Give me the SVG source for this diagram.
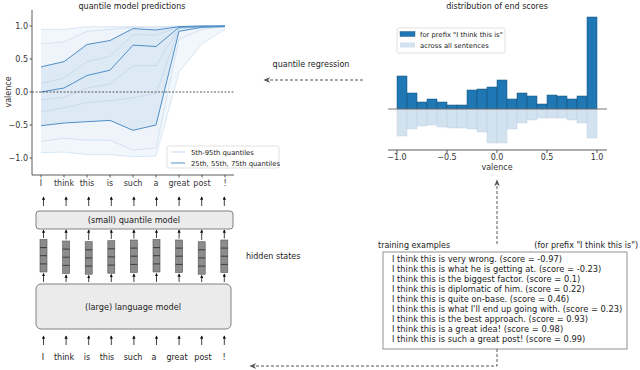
<svg xmlns="http://www.w3.org/2000/svg" width="640" height="370" viewBox="0 0 640 370">
<defs>
<style>
text{font-family:"DejaVu Sans",Verdana,sans-serif;fill:#222}
.t8{font-size:8px}
.bl{font-size:8.2px}
.leg{font-size:6.8px}
.tk{font-size:8px;fill:#333}
.ex{font-size:8.3px}
.box{fill:#ebebeb;stroke:#666;stroke-width:0.8}
.arr{stroke:#111;stroke-width:0.8;marker-end:url(#sa)}
.dash{stroke:#555;stroke-width:1;stroke-dasharray:3 2;fill:none;marker-end:url(#da)}
.hs{fill:#8c8c8c;stroke:#555;stroke-width:0.6}
.hsl{stroke:#333;stroke-width:0.9}
.ql{fill:none;stroke:#9fc1e2;stroke-width:0.6;opacity:0.6}
.qm{fill:none;stroke:#4f8fc8;stroke-width:1}
.bar{fill:#1f77b4;stroke:#1b4f7a;stroke-width:0.5}
.bar2{fill:#d3e2ef;stroke:#b9cde0;stroke-width:0.4}
.ax{stroke:#333;stroke-width:0.8;fill:none}
</style>
<marker id="sa" viewBox="0 0 6 6" refX="5" refY="3" markerWidth="3.4" markerHeight="3.4" markerUnits="userSpaceOnUse" orient="auto"><path d="M0,0 L6,3 L0,6 z" fill="#111"/></marker>
<marker id="da" viewBox="0 0 10 10" refX="9" refY="5" markerWidth="7" markerHeight="7" markerUnits="userSpaceOnUse" orient="auto"><path d="M0,1 L10,5 L0,9 L3,5 z" fill="#555"/></marker>
</defs>

<g id="quantile-chart">
<text class="t8" x="132" y="8.5" text-anchor="middle">quantile model predictions</text>
<path d="M41,29.3 L64,29.3 L87,26.7 L110,26.7 L133,26.7 L156,26.7 L179,26 L202,26 L225,26 L225,29.3 L202,43.8 L179,72.2 L156,156 L133,156.7 L110,154.7 L87,154.7 L64,152.1 L41,152.7 Z" fill="#1f77b4" fill-opacity="0.06"/>
<path d="M41,43.8 L64,41.8 L87,31.3 L110,29.3 L133,27.3 L156,28 L179,26.7 L202,26 L225,26 L225,26.7 L202,29.3 L179,39.2 L156,148.1 L133,150.1 L110,140.2 L87,140.2 L64,138.2 L41,141.5 Z" fill="#1f77b4" fill-opacity="0.02"/>
<path d="M41,66.9 L64,61.6 L87,44.5 L110,40.5 L133,28.6 L156,30 L179,26.7 L202,26 L225,26 L225,26.7 L202,27.3 L179,31.3 L156,125 L133,130.3 L110,120.4 L87,121.7 L64,123 L41,125.7 Z" fill="#1f77b4" fill-opacity="0.08"/>
<path class="ql" d="M41,29.3 L64,29.3 L87,26.7 L110,26.7 L133,26.7 L156,26.7 L179,26 L202,26 L225,26"/>
<path class="ql" d="M41,43.8 L64,41.8 L87,31.3 L110,29.3 L133,27.3 L156,28 L179,26.7 L202,26 L225,26"/>
<path class="ql" d="M41,83.4 L64,78.1 L87,61.6 L110,56.4 L133,34.6 L156,35.2 L179,26.7 L202,26 L225,26"/>
<path class="ql" d="M41,99.9 L64,97.3 L87,88 L110,84.1 L133,65.6 L156,65.6 L179,28 L202,26.7 L225,26"/>
<path class="ql" d="M41,111.8 L64,107.8 L87,102.6 L110,100.6 L133,97.9 L156,93.3 L179,28.6 L202,26.7 L225,26"/>
<path class="ql" d="M41,141.5 L64,138.2 L87,140.2 L110,140.2 L133,150.1 L156,148.1 L179,39.2 L202,29.3 L225,26.7"/>
<path class="ql" d="M41,152.7 L64,152.1 L87,154.7 L110,154.7 L133,156.7 L156,156 L179,72.2 L202,43.8 L225,29.3"/>
<path class="qm" d="M41,66.9 L64,61.6 L87,44.5 L110,40.5 L133,28.6 L156,30 L179,26.7 L202,26 L225,26"/>
<path class="qm" d="M41,92 L64,88 L87,75.5 L110,70.2 L133,45.1 L156,46.5 L179,27.3 L202,26.7 L225,26"/>
<path class="qm" d="M41,125.7 L64,123 L87,121.7 L110,120.4 L133,130.3 L156,125 L179,31.3 L202,27.3 L225,26.7"/>
<line x1="32" y1="92" x2="235" y2="92" stroke="#333" stroke-width="0.8" stroke-dasharray="2 1.5"/>
<path class="ax" d="M32,10 V175 H234"/>
<path class="ax" d="M29.5,26 H32 M29.5,59 H32 M29.5,92 H32 M29.5,125 H32 M29.5,158 H32 M41,175 V177.5 M64,175 V177.5 M87,175 V177.5 M110,175 V177.5 M133,175 V177.5 M156,175 V177.5 M179,175 V177.5 M202,175 V177.5 M225,175 V177.5"/>
<text class="tk" x="28" y="29" text-anchor="end">1.0</text>
<text class="tk" x="28" y="62" text-anchor="end">0.5</text>
<text class="tk" x="28" y="95" text-anchor="end">0.0</text>
<text class="tk" x="28" y="128" text-anchor="end">−0.5</text>
<text class="tk" x="28" y="161" text-anchor="end">−1.0</text>
<text class="tk" transform="translate(10.5,92) rotate(-90)" text-anchor="middle">valence</text>
<g class="tk" text-anchor="middle">
<text class="tk" x="41" y="186">I</text>
<text class="tk" x="64" y="186">think</text>
<text class="tk" x="87" y="186">this</text>
<text class="tk" x="110" y="186">is</text>
<text class="tk" x="133" y="186">such</text>
<text class="tk" x="156" y="186">a</text>
<text class="tk" x="179" y="186">great</text>
<text class="tk" x="202" y="186">post</text>
<text class="tk" x="225" y="186">!</text>
</g>
<rect x="167" y="146" width="112" height="22" rx="2" fill="#fff" fill-opacity="0.85" stroke="#ccc" stroke-width="0.6"/>
<line x1="171" y1="152" x2="185" y2="152" stroke="#c6dbef" stroke-width="1"/>
<text class="leg" x="191" y="154.5">5th-95th quantiles</text>
<line x1="171" y1="163" x2="185" y2="163" stroke="#8ab8e0" stroke-width="1.5"/>
<text class="leg" x="191" y="165.5">25th, 55th, 75th quantiles</text>
</g>

<g id="histogram">
<text class="t8" x="497" y="9" text-anchor="middle">distribution of end scores</text>
<rect class="bar" x="397" y="76" width="10" height="33"/>
<rect class="bar" x="407" y="93" width="10" height="16"/>
<rect class="bar" x="417" y="102" width="10" height="7"/>
<rect class="bar" x="427" y="99" width="10" height="10"/>
<rect class="bar" x="437" y="102" width="10" height="7"/>
<rect class="bar" x="447" y="105" width="10" height="4"/>
<rect class="bar" x="457" y="105" width="10" height="4"/>
<rect class="bar" x="467" y="90" width="10" height="19"/>
<rect class="bar" x="477" y="89" width="10" height="20"/>
<rect class="bar" x="487" y="87" width="10" height="22"/>
<rect class="bar" x="497" y="80" width="10" height="29"/>
<rect class="bar" x="507" y="99" width="10" height="10"/>
<rect class="bar" x="517" y="93" width="10" height="16"/>
<rect class="bar" x="527" y="96" width="10" height="13"/>
<rect class="bar" x="537" y="104" width="10" height="5"/>
<rect class="bar" x="547" y="95" width="10" height="14"/>
<rect class="bar" x="557" y="96" width="10" height="13"/>
<rect class="bar" x="567" y="99" width="10" height="10"/>
<rect class="bar" x="577" y="96" width="10" height="13"/>
<rect class="bar" x="587" y="17" width="10" height="92"/>
<rect class="bar2" x="397" y="109" width="10" height="27"/>
<rect class="bar2" x="407" y="109" width="10" height="20"/>
<rect class="bar2" x="417" y="109" width="10" height="17"/>
<rect class="bar2" x="427" y="109" width="10" height="16"/>
<rect class="bar2" x="437" y="109" width="10" height="18"/>
<rect class="bar2" x="447" y="109" width="10" height="19"/>
<rect class="bar2" x="457" y="109" width="10" height="19"/>
<rect class="bar2" x="467" y="109" width="10" height="20"/>
<rect class="bar2" x="477" y="109" width="10" height="23"/>
<rect class="bar2" x="487" y="109" width="10" height="34"/>
<rect class="bar2" x="497" y="109" width="10" height="34"/>
<rect class="bar2" x="507" y="109" width="10" height="20"/>
<rect class="bar2" x="517" y="109" width="10" height="14"/>
<rect class="bar2" x="527" y="109" width="10" height="11"/>
<rect class="bar2" x="537" y="109" width="10" height="9"/>
<rect class="bar2" x="547" y="109" width="10" height="9"/>
<rect class="bar2" x="557" y="109" width="10" height="9"/>
<rect class="bar2" x="567" y="109" width="10" height="11"/>
<rect class="bar2" x="577" y="109" width="10" height="14"/>
<rect class="bar2" x="587" y="109" width="10" height="29"/>
<line x1="388" y1="109" x2="607" y2="109" stroke="#555" stroke-width="0.8"/>
<path class="ax" d="M388,150 H607 M397,150 V153 M447,150 V153 M497,150 V153 M547,150 V153 M597,150 V153"/>
<text class="tk" x="397" y="160" text-anchor="middle">−1.0</text>
<text class="tk" x="447" y="160" text-anchor="middle">−0.5</text>
<text class="tk" x="497" y="160" text-anchor="middle">0.0</text>
<text class="tk" x="547" y="160" text-anchor="middle">0.5</text>
<text class="tk" x="597" y="160" text-anchor="middle">1.0</text>
<text class="tk" x="497" y="170" text-anchor="middle">valence</text>
<rect x="397" y="28" width="108" height="25" rx="2" fill="#fff" fill-opacity="0.85" stroke="#ccc" stroke-width="0.6"/>
<rect x="400" y="31.5" width="15" height="5" fill="#1f77b4" stroke="#1b4f7a" stroke-width="0.4"/>
<text class="leg" x="420" y="36.5">for prefix "I think this is"</text>
<rect x="400" y="42.5" width="15" height="5" fill="#d3e2ef"/>
<text class="leg" x="420" y="47.5">across all sentences</text>
</g>

<g id="quantile-model">
<rect class="box" x="36" y="211" width="197" height="18" rx="3"/>
<text class="bl" x="134" y="223" text-anchor="middle">(small) quantile model</text>
</g>

<g id="hidden-states">
<rect class="hs" x="40" y="239.5" width="7" height="32.5"/><path class="hsl" d="M40,247.6 h7 M40,255.7 h7 M40,263.9 h7"/>
<rect class="hs" x="62.6" y="241" width="7" height="32.5"/><path class="hsl" d="M62.6,249.1 h7 M62.6,257.2 h7 M62.6,265.4 h7"/>
<rect class="hs" x="85.2" y="241.7" width="7" height="32.5"/><path class="hsl" d="M85.2,249.8 h7 M85.2,257.9 h7 M85.2,266.1 h7"/>
<rect class="hs" x="107.8" y="240.7" width="7" height="32.5"/><path class="hsl" d="M107.8,248.8 h7 M107.8,256.9 h7 M107.8,265.1 h7"/>
<rect class="hs" x="130.4" y="240" width="7" height="32.5"/><path class="hsl" d="M130.4,248.1 h7 M130.4,256.2 h7 M130.4,264.4 h7"/>
<rect class="hs" x="153" y="239.5" width="7" height="32.5"/><path class="hsl" d="M153,247.6 h7 M153,255.7 h7 M153,263.9 h7"/>
<rect class="hs" x="175.6" y="240" width="7" height="32.5"/><path class="hsl" d="M175.6,248.1 h7 M175.6,256.2 h7 M175.6,264.4 h7"/>
<rect class="hs" x="198.2" y="241.7" width="7" height="32.5"/><path class="hsl" d="M198.2,249.8 h7 M198.2,257.9 h7 M198.2,266.1 h7"/>
<rect class="hs" x="220.8" y="240" width="7" height="32.5"/><path class="hsl" d="M220.8,248.1 h7 M220.8,256.2 h7 M220.8,264.4 h7"/>
<text class="t8" x="246" y="259">hidden states</text>
</g>

<g id="language-model">
<rect class="box" x="36" y="284" width="195" height="45" rx="5"/>
<text class="bl" x="133" y="309.5" text-anchor="middle">(large) language model</text>
</g>

<g id="input-tokens">
<text class="t8" x="43" y="360" text-anchor="middle">I</text>
<text class="t8" x="64" y="360" text-anchor="middle">think</text>
<text class="t8" x="87" y="360" text-anchor="middle">is</text>
<text class="t8" x="107" y="360" text-anchor="middle">this</text>
<text class="t8" x="133" y="360" text-anchor="middle">such</text>
<text class="t8" x="154" y="360" text-anchor="middle">a</text>
<text class="t8" x="177" y="360" text-anchor="middle">great</text>
<text class="t8" x="203" y="360" text-anchor="middle">post</text>
<text class="t8" x="224" y="360" text-anchor="middle">!</text>
</g>

<g id="training-examples">
<text class="t8" x="378" y="248">training examples</text>
<text class="t8" x="638" y="248" text-anchor="end">(for prefix "I think this is")</text>
<rect x="383" y="252" width="244" height="97" fill="#fff" stroke="#777" stroke-width="0.8"/>
<text class="ex" x="392" y="261.5">I think this is very wrong. (score = -0.97)</text>
<text class="ex" x="392" y="271.6">I think this is what he is getting at. (score = -0.23)</text>
<text class="ex" x="392" y="281.7">I think this is the biggest factor. (score = 0.1)</text>
<text class="ex" x="392" y="291.8">I think this is diplomatic of him. (score = 0.22)</text>
<text class="ex" x="392" y="301.9">I think this is quite on-base. (score = 0.46)</text>
<text class="ex" x="392" y="312">I think this is what I'll end up going with. (score = 0.23)</text>
<text class="ex" x="392" y="322.1">I think this is the best approach. (score = 0.93)</text>
<text class="ex" x="392" y="332.2">I think this is a great idea! (score = 0.98)</text>
<text class="ex" x="392" y="342.3">I think this is such a great post! (score = 0.99)</text>
</g>

<g id="connectors">
<line class="arr" x1="43.5" y1="206" x2="43.5" y2="197"/>
<line class="arr" x1="66.1" y1="206" x2="66.1" y2="197"/>
<line class="arr" x1="88.7" y1="206" x2="88.7" y2="197"/>
<line class="arr" x1="111.3" y1="206" x2="111.3" y2="197"/>
<line class="arr" x1="133.9" y1="206" x2="133.9" y2="197"/>
<line class="arr" x1="156.5" y1="206" x2="156.5" y2="197"/>
<line class="arr" x1="179.1" y1="206" x2="179.1" y2="197"/>
<line class="arr" x1="201.7" y1="206" x2="201.7" y2="197"/>
<line class="arr" x1="224.3" y1="206" x2="224.3" y2="197"/>
<line class="arr" x1="43.5" y1="238" x2="43.5" y2="230"/>
<line class="arr" x1="66.1" y1="239.5" x2="66.1" y2="230"/>
<line class="arr" x1="88.7" y1="240" x2="88.7" y2="230"/>
<line class="arr" x1="111.3" y1="239" x2="111.3" y2="230"/>
<line class="arr" x1="133.9" y1="238.5" x2="133.9" y2="230"/>
<line class="arr" x1="156.5" y1="238" x2="156.5" y2="230"/>
<line class="arr" x1="179.1" y1="238.5" x2="179.1" y2="230"/>
<line class="arr" x1="201.7" y1="240" x2="201.7" y2="230"/>
<line class="arr" x1="224.3" y1="238.5" x2="224.3" y2="230"/>
<line class="arr" x1="43.5" y1="282" x2="43.5" y2="273.5"/>
<line class="arr" x1="66.1" y1="282" x2="66.1" y2="275"/>
<line class="arr" x1="88.7" y1="282" x2="88.7" y2="275.5"/>
<line class="arr" x1="111.3" y1="282" x2="111.3" y2="274.5"/>
<line class="arr" x1="133.9" y1="282" x2="133.9" y2="274"/>
<line class="arr" x1="156.5" y1="282" x2="156.5" y2="273.5"/>
<line class="arr" x1="179.1" y1="282" x2="179.1" y2="274"/>
<line class="arr" x1="201.7" y1="282" x2="201.7" y2="275.5"/>
<line class="arr" x1="224.3" y1="282" x2="224.3" y2="274"/>
<line class="arr" x1="43.5" y1="345" x2="43.5" y2="336"/>
<line class="arr" x1="66.1" y1="345" x2="66.1" y2="336"/>
<line class="arr" x1="88.7" y1="345" x2="88.7" y2="336"/>
<line class="arr" x1="111.3" y1="345" x2="111.3" y2="336"/>
<line class="arr" x1="133.9" y1="345" x2="133.9" y2="336"/>
<line class="arr" x1="156.5" y1="345" x2="156.5" y2="336"/>
<line class="arr" x1="179.1" y1="345" x2="179.1" y2="336"/>
<line class="arr" x1="201.7" y1="345" x2="201.7" y2="336"/>
<line class="arr" x1="224.3" y1="345" x2="224.3" y2="336"/>
<path class="dash" d="M363,80 H264"/>
<text class="t8" x="311" y="67" text-anchor="middle">quantile regression</text>
<path class="dash" d="M497,244 V180"/>
<path class="dash" d="M497,349 V366 H250"/>
</g>
</svg>
